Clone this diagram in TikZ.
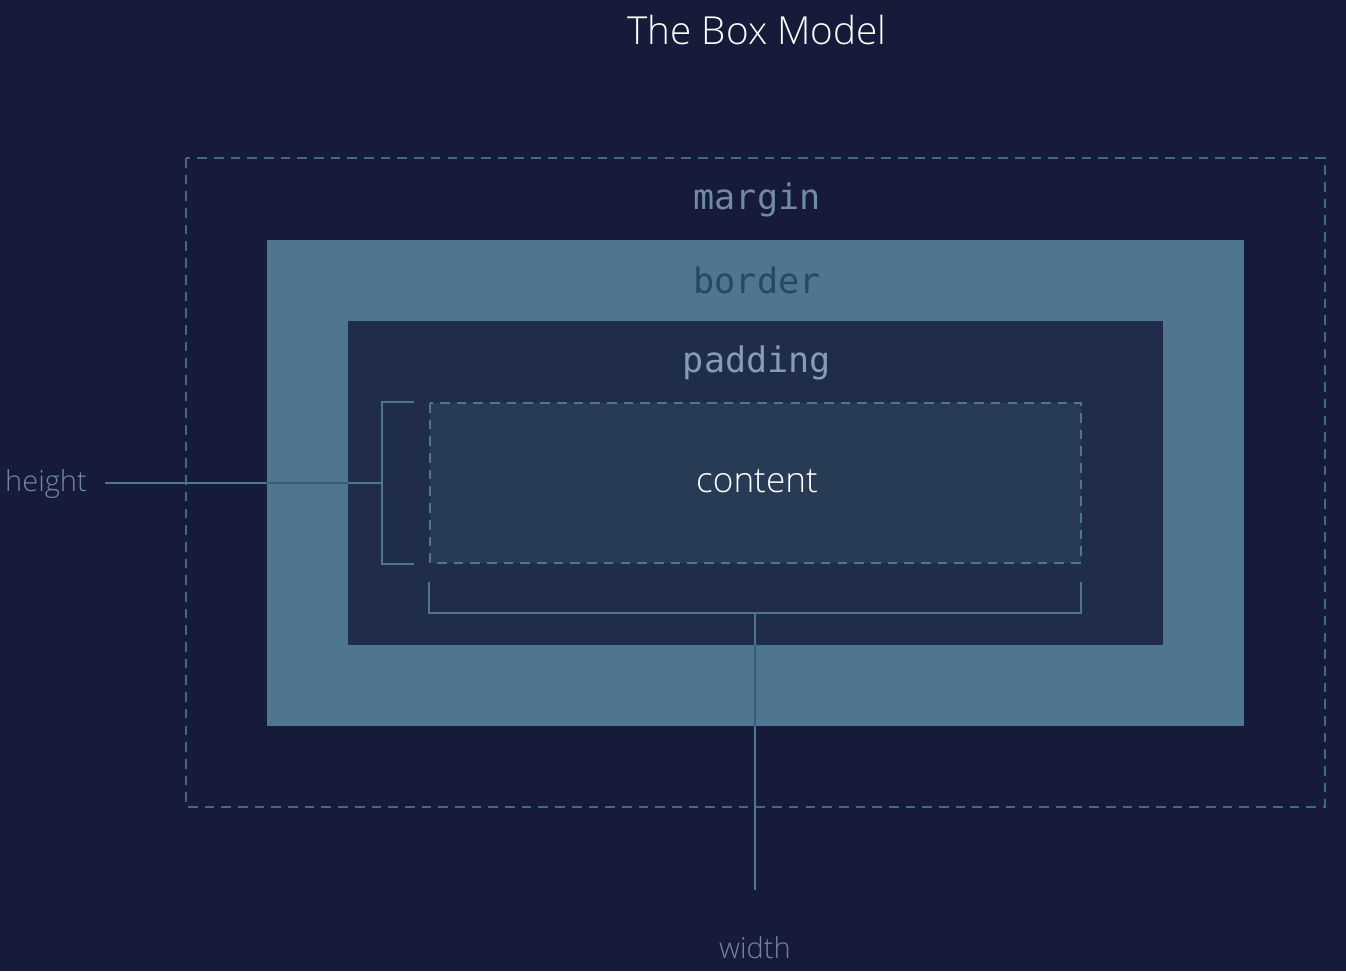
\documentclass[tikz,border=0pt]{standalone}
\usepackage{fontspec}
\setmainfont{Open Sans}[UprightFont={* Light}]
\setmonofont{DejaVu Sans Mono}
\usepackage{xcolor}
\usetikzlibrary{positioning}

\definecolor{bgnavy}{HTML}{151B38}
\definecolor{borderfill}{HTML}{4E7690}
\definecolor{padfill}{HTML}{1F2D4A}
\definecolor{contfill}{HTML}{283B55}
\definecolor{dashline}{HTML}{3F6A85}
\definecolor{marktext}{HTML}{6F8BA8}
\definecolor{bordtext}{HTML}{29485F}
\definecolor{dimtext}{HTML}{6E88A4}
\definecolor{darkline}{HTML}{3A5E7A}

\tikzset{
    boxlabel/.style={font=\ttfamily\fontsize{20}{22}\selectfont, inner sep=0pt},
    dimlabel/.style={font=\fontsize{16.5}{19}\selectfont, text=dimtext, inner sep=0pt},
    dashbox/.style={draw=dashline, line width=0.85pt, dash pattern=on 5.5pt off 4pt},
    bracket/.style={draw=borderfill, line width=0.85pt}
}

\begin{document}
\begin{tikzpicture}[x=0.02cm, y=-0.02cm]

        % Background, fixes the page size too
        \fill[bgnavy] (0,0) rectangle (1346,971);
        \useasboundingbox (0,0) rectangle (1346,971);

        \node (T) at (757,30) {\color{white}\fontsize{22}{26}\selectfont The Box Model};

        % Nested boxes from the outside in
        \begin{scope}
            \draw[dashbox] (186,158) rectangle (1325,807);
            \fill[borderfill] (267,240) rectangle (1244,726);
            \fill[padfill] (348,321) rectangle (1163,645);
            \fill[contfill] (430,403) rectangle (1081,563);
            \draw[dashbox, draw=borderfill] (430,403) rectangle (1081,563);
        \end{scope}

        \node (M) [boxlabel, text=marktext] at (757,200) {margin};
        \node (B) [boxlabel, text=bordtext] at (757,280) {border};
        \node (P) [boxlabel, text=marktext!85!white] at (757,363) {padding};
        \node (C) at (757,481) {\color{white}\fontsize{20}{24}\selectfont content};

        \node (H) [dimlabel] at (46,484) {height};
        \node (W) [dimlabel] at (755,948) {width};

        % Brackets for height and width
        \coordinate (Hb) at (382,483);
        \coordinate (Wb) at (755,613);
        \coordinate (We) at (755,890);
        \begin{scope}[bracket]
            \draw (414,402) -- (382,402) -- (382,564) -- (414,564);
            \draw (429,582) -- (429,613) -- (1081,613) -- (1081,582);
            \draw (H.east |- Hb) ++(18,0) -- (Hb);
            \draw (Wb) -- (We);
        \end{scope}

        % Same lines look darker where they cross the border band
        \begin{scope}
            \clip (267,240) rectangle (348,726) (1163,240) rectangle (1244,726)
                (267,645) rectangle (1244,726);
            \draw[bracket, draw=darkline] (H.east |- Hb) ++(18,0) -- (Hb);
            \draw[bracket, draw=darkline] (Wb) -- (We);
        \end{scope}

        \end{tikzpicture}
\end{document}
